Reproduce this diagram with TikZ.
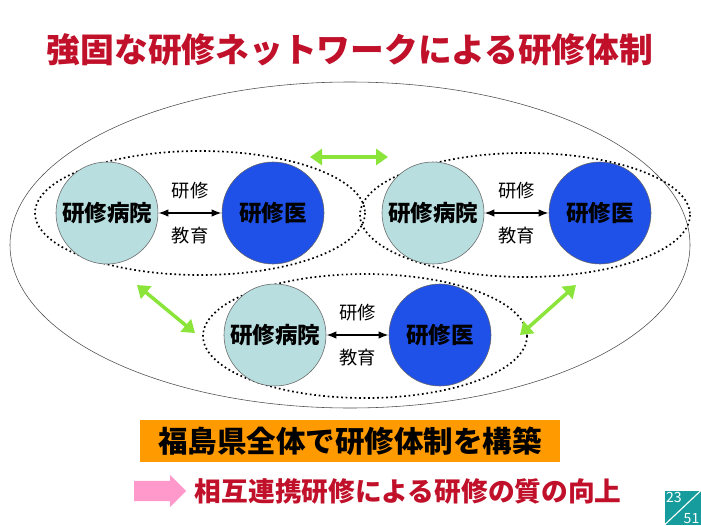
\documentclass[tikz,border=0pt]{standalone}
\usepackage{fontspec}
\setmainfont{Noto Sans CJK JP}
\usetikzlibrary{arrows.meta, shapes.arrows}
\definecolor{titlered}{HTML}{C0102A}
\definecolor{lightcirc}{HTML}{B8DEE0}
\definecolor{darkcirc}{HTML}{1F50E8}
\definecolor{linkgreen}{HTML}{8AE43A}
\definecolor{boxorange}{HTML}{FF9A00}
\definecolor{arrowpink}{HTML}{FF99CC}
\definecolor{pageteal}{HTML}{169C9C}

\begin{document}
\begin{tikzpicture}[x=0.025cm, y=-0.025cm,
        font=\bfseries,
        hospital/.style={circle, draw=black!60, fill=lightcirc, minimum size=2.55cm, inner sep=0pt, font=\bfseries\fontsize{16}{18}\selectfont},
        resident/.style={circle, draw=black!60, fill=darkcirc, minimum size=2.55cm, inner sep=0pt, font=\bfseries\fontsize{16}{18}\selectfont},
        group/.style={draw, dotted, line width=1.2pt},
        link/.style={{Latex[length=2.5mm]}-{Latex[length=2.5mm]}, line width=1.2pt},
        greenlink/.style={{Triangle[length=3mm,width=4mm]}-{Triangle[length=3mm,width=4mm]}, line width=2.5pt, linkgreen},
        small/.style={font=\fontsize{13}{15}\selectfont}
    ]
    \useasboundingbox (0,0) rectangle (701,525);

    % Title
    \node[titlered, font=\bfseries\fontsize{24}{28}\selectfont] (title) at (350,50) {強固な研修ネットワークによる研修体制};

    % Outer and group ellipses
    \draw[black!70] (350,245) ellipse [x radius=340, y radius=163];
    \draw[group] (200,213) ellipse [x radius=165, y radius=62];
    \draw[group] (525,215) ellipse [x radius=165, y radius=62];
    \draw[group] (365,336) ellipse [x radius=162, y radius=62];

    % Circles
    \node[hospital] (hospL) at (107,213) {研修病院};
    \node[resident] (resL) at (273,213) {研修医};
    \node[hospital] (hospR) at (433,213) {研修病院};
    \node[resident] (resR) at (600,213) {研修医};
    \node[hospital] (hospB) at (275,335) {研修病院};
    \node[resident] (resB) at (440,335) {研修医};

    % Training arrows
    \foreach \h/\r in {hospL/resL, hospR/resR, hospB/resB} {
        \draw[link] (\h) -- (\r)
            node[midway, above=6pt, small] {研修}
            node[midway, below=6pt, small] {教育};
    }

    % Green links between groups
    \coordinate (gTopA) at (310,157);
    \coordinate (gTopB) at (388,157);
    \coordinate (gLeftA) at (137,285);
    \coordinate (gLeftB) at (195,333);
    \coordinate (gRightA) at (576,285);
    \coordinate (gRightB) at (520,335);
    \draw[greenlink] (gTopA) -- (gTopB);
    \draw[greenlink] (gLeftA) -- (gLeftB);
    \draw[greenlink] (gRightA) -- (gRightB);

    % Bottom texts
    \node[fill=boxorange, font=\bfseries\fontsize{21}{24}\selectfont, minimum width=10.5cm, minimum height=1.05cm] (whole) at (350,441) {福島県全体で研修体制を構築};
    \node[single arrow, fill=arrowpink, minimum height=1.3cm, minimum width=0.8cm, single arrow head extend=2pt] (pink) at (155,491) {};
    \node[anchor=west, titlered, font=\bfseries\fontsize{19}{22}\selectfont] (quality) at (190,491) {相互連携研修による研修の質の向上};

    % Page number
    \node[fill=pageteal, minimum width=0.9cm, minimum height=0.85cm, anchor=south east] (page) at (701,525) {};
    \draw[white, thick] (page.south west) -- (page.north east);
    \node[white, font=\normalfont\fontsize{10}{11}\selectfont, anchor=north west, inner sep=1pt] (pnum) at (page.north west) {23};
    \node[white, font=\normalfont\fontsize{10}{11}\selectfont, anchor=south east, inner sep=1pt] (ptot) at (page.south east) {51};
\end{tikzpicture}
\end{document}
